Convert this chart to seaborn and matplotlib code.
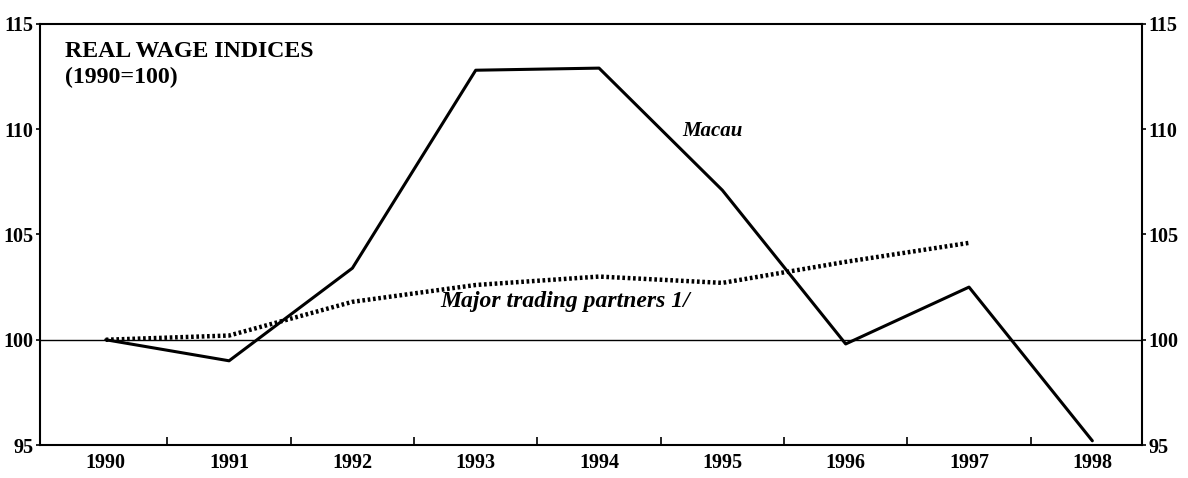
import pandas as pd
import matplotlib
matplotlib.use('Agg')
import matplotlib.pyplot as plt
import seaborn as sns

# --- DATA ---
YEARS = [1990, 1991, 1992, 1993, 1994, 1995, 1996, 1997, 1998]
MACAU = [100.0, 99.0, 103.4, 112.8, 112.9, 107.1, 99.8, 102.5, 95.2]
PARTNER_YEARS = [1990, 1991, 1992, 1993, 1994, 1995, 1996, 1997]
PARTNERS = [100.0, 100.2, 101.8, 102.6, 103.0, 102.7, 103.7, 104.6]
Y_TICKS = [95, 100, 105, 110, 115]

sns.set_style("white")
plt.rcParams['font.family'] = ['Liberation Serif', 'DejaVu Serif']
plt.rcParams.update({'text.color': 'black', 'xtick.color': 'black',
                     'ytick.color': 'black', 'axes.labelcolor': 'black'})

df_m = pd.DataFrame({"year": YEARS, "index": MACAU})
df_p = pd.DataFrame({"year": PARTNER_YEARS, "index": PARTNERS})

fig = plt.figure(figsize=(11.88, 4.78), dpi=100)
ax = fig.add_axes([0.034, 0.069, 0.927, 0.881])

ax.axhline(100, color="black", lw=1.0, zorder=1)
sns.lineplot(data=df_m, x="year", y="index", ax=ax, color="black", lw=2.2, zorder=3)
sns.lineplot(data=df_p, x="year", y="index", ax=ax, color="black", lw=3.2,
             linestyle=(0, (0.6, 0.6)), zorder=2)

ax.set_xlim(1989.47, 1998.40)
ax.set_ylim(95, 115)
ax.set_xticks(YEARS)
ax.set_xticklabels([str(y) for y in YEARS], fontsize=14.5, fontweight='bold')
ax.set_xticks([y + 0.5 for y in YEARS[:-1]], minor=True)
ax.tick_params(axis='x', which='major', length=0, pad=6)
ax.tick_params(axis='x', which='minor', direction='in', length=6, width=1.2, bottom=True)
ax.set_yticks(Y_TICKS)
ax.set_yticklabels([str(v) for v in Y_TICKS], fontsize=14.5, fontweight='bold')
ax.tick_params(axis='y', left=True, right=True, labelleft=True, labelright=True,
               direction='out', length=3, width=1.2, pad=2)
ax.set_xlabel("")
ax.set_ylabel("")
for s in ax.spines.values():
    s.set_linewidth(1.5)
    s.set_color("black")

ax.text(0.022, 0.96, "REAL WAGE INDICES\n(1990=100)", transform=ax.transAxes,
        ha='left', va='top', fontsize=17.2, fontweight='bold', linespacing=1.3)
ax.text(1994.92, 109.9, "Macau", fontsize=15, fontstyle='italic', fontweight='bold',
        ha='center', va='center')
ax.text(1992.71, 101.8, "Major trading partners 1/", fontsize=17, fontstyle='italic',
        fontweight='bold', ha='left', va='center')

fig.savefig("out.png", dpi=100)
